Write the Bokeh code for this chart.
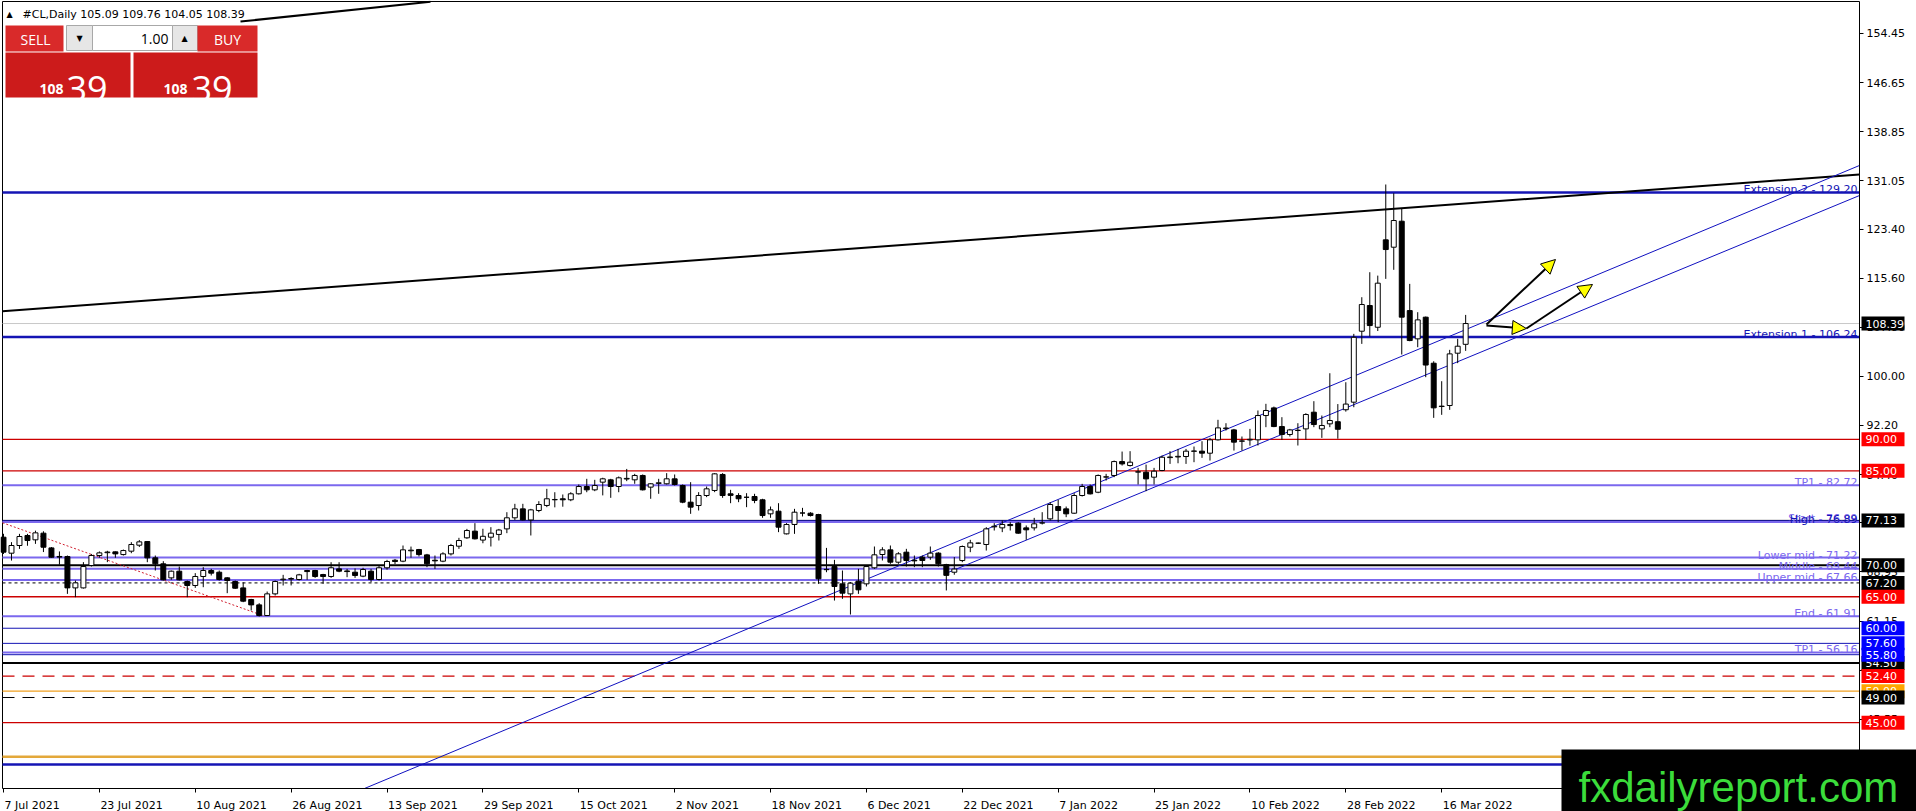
from bokeh.plotting import figure
from bokeh.models import (Range1d, FixedTicker, Label, BoxAnnotation, Arrow, NormalHead,
                          ColumnDataSource, PrintfTickFormatter, CustomJSTickFormatter)
from bokeh.embed import file_html
from bokeh.resources import INLINE

# ---------------- data ----------------
opens = [74.46, 71.92, 73.14, 74.73, 74.04, 75.1, 72.76, 71.4, 71.39, 66.41,
         66.41, 69.96, 71.55, 72.0, 72.13, 71.7, 72.24, 73.19, 73.77, 71.18,
         70.23, 68.0, 69.06, 67.42, 66.79, 68.22, 69.17, 68.9, 68.0, 67.42,
         66.41, 64.56, 63.71, 62.02, 65.46, 67.7, 67.8, 67.74, 69.17, 69.17,
         68.53, 68.22, 69.43, 69.1, 68.9, 68.27, 69.06, 67.74, 69.6, 70.8,
         70.65, 72.3, 72.5, 71.65, 70.8, 70.65, 71.81, 73.03, 74.36, 75.42,
         74.0, 74.46, 74.9, 75.78, 77.54, 78.96, 77.2, 78.7, 79.5, 80.4,
         80.56, 80.4, 81.35, 82.51, 81.98, 83.2, 83.57, 82.51, 83.7, 83.57,
         84.26, 82.41, 83.0, 82.94, 83.73, 82.67, 80.02, 79.49, 81.08, 81.88,
         84.42, 81.35, 81.08, 80.8, 80.92, 80.4, 78.17, 78.59, 74.99, 76.48,
         78.3, 78.27, 78.06, 69.3, 69.8, 67.05, 65.46, 67.48, 67.05, 69.6,
         71.71, 72.45, 70.49, 72.08, 70.8, 71.29, 71.29, 71.93, 70.1, 68.9,
         70.75, 72.87, 73.5, 73.3, 76.1, 75.94, 76.48, 76.69, 75.94, 75.94,
         76.7, 77.37, 79.33, 78.96, 78.27, 81.08, 82.51, 81.6, 84.0, 84.26,
         86.47, 85.84, 84.8, 84.78, 83.99, 85.05, 87.1, 87.2, 87.27, 88.1,
         88.12, 87.8, 89.92, 91.7, 91.5, 89.7, 89.9, 89.92, 93.78, 94.99,
         92.03, 90.77, 91.4, 91.66, 94.31, 91.66, 92.46, 92.8, 94.7, 95.9,
         107.17, 111.25, 107.8, 121.68, 120.51, 124.64, 110.45, 105.96, 109.4, 102.09,
         95.27, 95.37, 103.68, 105.09]
highs = [75.0, 73.67, 74.99, 74.99, 75.5, 75.4, 72.9, 72.2, 71.55, 67.58,
         70.5, 71.8, 72.2, 72.3, 72.2, 72.5, 73.67, 74.0, 73.83, 71.55,
         70.65, 69.17, 69.8, 67.58, 68.75, 69.7, 69.43, 69.17, 68.11, 67.58,
         67.3, 64.67, 63.98, 65.83, 67.58, 68.48, 68.1, 68.64, 69.27, 69.27,
         68.64, 70.49, 70.49, 69.43, 69.5, 69.6, 69.43, 69.96, 70.86, 71.0,
         73.14, 72.97, 72.6, 71.81, 71.55, 72.07, 73.4, 74.36, 75.78, 76.69,
         75.8, 76.05, 75.78, 78.43, 79.76, 79.76, 78.96, 80.18, 82.14, 81.6,
         81.24, 81.6, 82.83, 83.73, 83.57, 83.9, 83.73, 84.1, 85.3, 84.52,
         84.42, 83.04, 83.73, 84.63, 84.42, 82.83, 83.2, 81.61, 82.51, 84.63,
         84.63, 81.98, 81.45, 81.45, 81.35, 80.56, 79.33, 79.86, 76.69, 78.96,
         79.12, 78.43, 78.17, 72.76, 70.86, 69.17, 67.32, 69.43, 69.96, 72.98,
         72.87, 73.14, 72.08, 72.61, 71.55, 71.55, 72.98, 72.08, 70.23, 71.3,
         73.14, 74.04, 73.6, 76.05, 76.69, 77.11, 76.85, 76.85, 76.32, 77.53,
         78.43, 80.02, 80.39, 79.33, 81.45, 82.93, 82.83, 84.42, 84.52, 86.63,
         88.06, 88.12, 85.47, 85.99, 85.47, 87.43, 88.12, 88.48, 88.48, 88.86,
         89.7, 90.23, 93.1, 92.56, 91.66, 90.45, 91.66, 94.58, 95.64, 95.2,
         93.52, 91.66, 92.56, 94.15, 96.06, 93.78, 100.5, 95.6, 99.07, 106.75,
         112.57, 116.54, 116.0, 130.47, 129.09, 126.6, 114.69, 110.19, 109.5, 102.4,
         99.23, 104.21, 105.96, 109.76]
lows = [71.8, 70.75, 72.6, 73.1, 73.4, 72.1, 71.2, 70.1, 65.46, 64.93,
        66.3, 69.8, 71.2, 70.5, 71.2, 71.55, 71.92, 72.9, 70.49, 69.17,
        67.58, 67.69, 67.58, 64.93, 66.41, 66.52, 68.38, 67.58, 65.57, 66.25,
        64.14, 62.81, 61.86, 62.0, 65.2, 66.79, 66.8, 67.58, 67.69, 68.0,
        67.05, 68.0, 68.9, 68.11, 68.0, 68.11, 67.3, 67.58, 69.3, 70.2,
        70.49, 71.2, 71.4, 69.7, 69.43, 70.49, 71.55, 72.6, 74.2, 74.1,
        73.5, 72.98, 73.93, 75.1, 77.2, 77.11, 74.73, 78.43, 79.23, 79.2,
        79.3, 80.18, 81.24, 81.6, 81.77, 81.1, 80.71, 81.6, 83.36, 82.94,
        81.88, 80.56, 81.35, 82.83, 82.67, 79.86, 78.17, 78.7, 80.82, 81.61,
        80.71, 79.86, 80.02, 79.23, 79.86, 77.54, 77.54, 75.26, 74.9, 74.99,
        77.75, 77.75, 67.05, 68.9, 64.4, 64.67, 62.18, 65.46, 66.63, 69.43,
        70.76, 70.23, 70.23, 69.8, 69.7, 69.7, 70.87, 69.8, 66.0, 68.5,
        70.49, 72.08, 73.4, 72.34, 75.52, 75.26, 75.52, 74.99, 74.04, 75.52,
        76.48, 77.11, 76.85, 77.64, 78.17, 80.92, 81.24, 81.45, 83.46, 83.99,
        85.84, 85.68, 82.83, 81.77, 82.83, 84.94, 86.1, 86.2, 86.1, 86.37,
        87.06, 86.63, 89.81, 91.4, 88.22, 88.22, 89.0, 89.02, 91.93, 91.93,
        89.92, 90.45, 89.02, 89.92, 91.93, 90.23, 91.93, 90.1, 94.4, 95.1,
        105.16, 106.33, 107.2, 115.48, 116.92, 103.47, 105.58, 104.63, 99.87, 93.41,
        93.89, 94.68, 102.1, 104.05]
closes = [72.08, 73.14, 74.57, 73.93, 75.15, 72.87, 71.28, 71.3, 66.41, 67.21,
          69.8, 71.55, 71.97, 72.1, 71.81, 72.34, 73.3, 73.72, 71.18, 70.23,
          67.69, 69.06, 67.69, 66.79, 68.22, 69.17, 68.75, 67.74, 67.58, 66.36,
          64.3, 63.71, 62.02, 65.46, 67.42, 67.8, 67.9, 68.48, 69.0, 68.22,
          68.22, 69.6, 69.06, 69.0, 68.38, 69.33, 67.74, 69.6, 70.6, 70.6,
          72.45, 72.4, 71.7, 70.23, 70.7, 71.81, 73.14, 73.93, 75.52, 74.2,
          74.6, 75.1, 75.6, 77.54, 78.96, 77.2, 78.8, 79.65, 80.56, 80.45,
          80.4, 81.35, 82.51, 81.98, 82.67, 83.73, 82.51, 83.89, 83.8, 84.26,
          81.98, 82.94, 83.1, 83.73, 82.83, 80.02, 79.23, 81.08, 82.14, 84.52,
          81.08, 81.1, 80.56, 80.8, 80.29, 77.9, 78.8, 76.05, 76.48, 78.43,
          78.3, 77.9, 67.85, 69.35, 66.63, 65.57, 67.16, 66.1, 69.8, 71.66,
          72.45, 70.49, 71.82, 70.76, 70.7, 70.76, 71.93, 70.23, 68.4, 69.4,
          72.98, 73.56, 73.52, 75.78, 76.2, 76.48, 76.3, 75.1, 75.63, 76.58,
          76.75, 79.65, 78.7, 78.17, 81.08, 82.51, 81.34, 84.26, 84.05, 86.47,
          86.1, 86.37, 84.85, 83.72, 84.94, 87.16, 87.2, 87.3, 88.12, 88.15,
          87.8, 89.92, 91.82, 91.8, 89.55, 89.75, 90.0, 93.78, 94.58, 92.03,
          90.77, 91.5, 91.45, 93.94, 92.35, 92.2, 92.99, 91.6, 95.6, 106.2,
          111.41, 108.07, 114.8, 120.14, 124.75, 109.4, 105.69, 108.97, 101.8, 95.0,
          95.21, 103.57, 104.79, 108.39]

date_tick_idx = [0, 12, 24, 36, 48, 60, 72, 84, 96, 108, 120, 132, 144, 156, 168, 180]
date_tick_labels = ["7 Jul 2021", "23 Jul 2021", "10 Aug 2021", "26 Aug 2021",
                    "13 Sep 2021", "29 Sep 2021", "15 Oct 2021", "2 Nov 2021",
                    "18 Nov 2021", "6 Dec 2021", "22 Dec 2021", "7 Jan 2022",
                    "25 Jan 2022", "10 Feb 2022", "28 Feb 2022", "16 Mar 2022"]
price_ticks = [154.45, 146.65, 138.85, 131.05, 123.40, 115.60, 107.80, 100.00,
               92.20, 84.40, 76.75, 68.95, 61.15, 53.35, 45.55, 37.75]

BLUE = "#1414B4"
SLATE = "#7B68EE"
RED = "#CC0000"
level_prices = [129.20, 106.24, 108.39, 90.00, 85.00, 82.72, 77.13, 76.99, 76.89,
                71.22, 70.00, 69.44, 67.66, 67.20, 65.00, 61.91, 60.00, 57.60,
                56.16, 55.80, 54.50, 52.40, 50.00, 49.00, 45.00, 39.60, 38.35]
level_colors = [BLUE, BLUE, "#C8C8C8", RED, RED, SLATE, "black", BLUE, SLATE,
                SLATE, "black", SLATE, SLATE, "black", RED, SLATE, BLUE, BLUE,
                SLATE, BLUE, "black", RED, "#F0A020", "black", RED, "#E3A83A", BLUE]
level_widths = [2.5, 2.5, 1, 1.3, 1.3, 2, 1, 2, 2,
                2, 2, 2, 2, 1, 1.3, 2, 1, 1,
                2, 1, 2, 1.3, 1.2, 1, 1.3, 2.5, 2.5]
level_dashes = ["solid"] * 13 + ["3 3"] + ["solid"] * 7 + ["12 8", "solid", "12 8", "solid", "solid", "solid"]

line_text_prices = [129.20, 106.24, 82.72, 76.99, 76.89, 71.22, 69.44, 67.66, 61.91, 56.16]
line_text_labels = ["Extension 2 - 129.20", "Extension 1 - 106.24", "TP1 - 82.72",
                    "Start - 76.99", "High - 76.89", "Lower mid - 71.22", "Middle - 69.44",
                    "Upper mid - 67.66", "End - 61.91", "TP1 - 56.16"]
line_text_colors = [BLUE, BLUE, SLATE, SLATE, BLUE, SLATE, SLATE, SLATE, SLATE, SLATE]

box_prices = [77.13, 85.00, 90.00, 108.39, 70.00, 67.20, 65.00, 60.00, 54.50,
              57.60, 55.80, 52.40, 50.00, 49.00, 45.00]
box_colors = ["black", "#FF0000", "#FF0000", "black", "black", "black", "#FF0000",
              "#0000FF", "black", "#0000FF", "#0000FF", "#FF0000", "#FFA500", "black", "#FF0000"]

# trend lines / arrows (bar index, price)
black_trend_x = [-0.125, 232.29]
black_trend_y = [110.35, 132.06]
black_top_x = [29.66, 53.44]
black_top_y = [156.35, 159.48]
red_dotted_x = [-0.125, 32.5]
red_dotted_y = [76.75, 62.0]
channel_a_x = [45.18, 232.29]
channel_a_y = [34.55, 133.49]
channel_b_x = [117.9, 232.29]
channel_b_y = [68.69, 128.72]
arrow_x0 = [185.6, 185.6, 190.6]
arrow_y0 = [108.24, 108.08, 107.6]
arrow_x1 = [194.24, 190.6, 198.87]
arrow_y1 = [118.56, 107.6, 114.59]

# ---------------- geometry of the MT4 chart window ----------------
W, H = 1916, 811
PXB = 7.99            # pixels per bar
PXP = 6.297           # pixels per price unit
XL, XR = -0.125, 232.29   # left border / right scale line (bar index)
YB, YT = 34.55, 159.53    # bottom time-scale line / top border (price)

p = figure(width=W, height=H, x_range=Range1d(-0.3755, -0.3755 + W / PXB),
           y_range=Range1d(159.69 - H / PXP, 159.69), output_backend="svg",
           toolbar_location=None, y_axis_location="right",
           min_border_left=0, min_border_top=0, min_border_right=0, min_border_bottom=0)
p.xgrid.visible = False
p.ygrid.visible = False
p.outline_line_color = None
p.background_fill_color = "white"
p.border_fill_color = "white"

ya = p.yaxis[0]
ya.fixed_location = XR
ya.bounds = (YB, YT)
ya.ticker = FixedTicker(ticks=price_ticks)
ya.formatter = PrintfTickFormatter(format="%.2f")
ya.major_tick_out = 4
ya.major_tick_in = 0
ya.minor_tick_line_color = None
ya.major_label_standoff = 3
ya.major_label_text_font = "DejaVu Sans"
ya.major_label_text_font_size = "11px"
ya.major_label_text_color = "black"
ya.axis_line_color = "black"

# date labels are left-aligned at their tick in MT4: centre each label after its tick
cw = {"0": .636, "1": .636, "2": .636, "3": .636, "4": .636, "5": .636, "6": .636,
      "7": .636, "8": .636, "9": .636, " ": .318, "J": .295, "u": .634, "l": .278,
      "A": .684, "g": .635, "S": .635, "e": .615, "p": .635, "O": .787, "c": .550,
      "t": .392, "N": .748, "o": .612, "v": .592, "D": .770, "a": .613, "n": .634,
      "F": .575, "b": .635, "M": .863, "r": .411}
label_centres = [round(i + (1 + 11 * sum(cw.get(ch, .6) for ch in s) / 2) / PXB, 4)
                 for i, s in zip(date_tick_idx, date_tick_labels)]

xa = p.xaxis[0]
xa.fixed_location = YB
xa.bounds = (XL, XR)
xa.ticker = FixedTicker(ticks=label_centres, minor_ticks=date_tick_idx)
xa.formatter = CustomJSTickFormatter(args=dict(c=label_centres, l=date_tick_labels), code="""
    let best = 0;
    for (let k = 0; k < c.length; k++) {
        if (Math.abs(c[k] - tick) < Math.abs(c[best] - tick)) best = k;
    }
    return l[best];
""")
xa.major_tick_out = 0
xa.major_tick_in = 0
xa.minor_tick_out = 4
xa.minor_tick_in = 0
xa.minor_tick_line_color = "black"
xa.major_label_standoff = 6
xa.major_label_text_font = "DejaVu Sans"
xa.major_label_text_font_size = "11px"
xa.major_label_text_color = "black"
xa.axis_line_color = "black"

# chart borders (left, top)
p.segment(x0=[XL, XL], y0=[YB, YT], x1=[XL, XR], y1=[YT, YT], line_color="black", line_width=1)

# horizontal levels
for pr, col, w, d in zip(level_prices, level_colors, level_widths, level_dashes):
    p.segment(x0=[XL], y0=[pr], x1=[XR], y1=[pr], line_color=col, line_width=w, line_dash=d)

# trend lines
p.line(black_trend_x, black_trend_y, line_color="black", line_width=2)
p.line(black_top_x, black_top_y, line_color="black", line_width=2)
p.line(red_dotted_x, red_dotted_y, line_color="#D02030", line_width=1, line_dash="2 2")
p.line(channel_a_x, channel_a_y, line_color="#1010C0", line_width=1)
p.line(channel_b_x, channel_b_y, line_color="#1010C0", line_width=1)

# candles
src = ColumnDataSource(dict(
    x=list(range(len(opens))), o=opens, h=highs, l=lows, c=closes,
    top=[max(a, b) for a, b in zip(opens, closes)],
    bottom=[min(a, b) for a, b in zip(opens, closes)],
    fill=["white" if c >= o else "black" for o, c in zip(opens, closes)]))
p.segment(x0="x", y0="l", x1="x", y1="h", source=src, line_color="black", line_width=1)
p.vbar(x="x", width=0.62, top="top", bottom="bottom", source=src,
       fill_color="fill", line_color="black", line_width=1)

# arrows
for a, b, c, d in zip(arrow_x0, arrow_y0, arrow_x1, arrow_y1):
    p.add_layout(Arrow(x_start=a, y_start=b, x_end=c, y_end=d, line_color="black",
                       line_width=2, end=NormalHead(size=14, fill_color="#FFFF00",
                                                    line_color="black", line_width=1)))

# level texts at right edge, sitting just above their line
LIFT = 2.5 / PXP
for pr, t, col in zip(line_text_prices, line_text_labels, line_text_colors):
    p.add_layout(Label(x=XR, y=pr + LIFT, text=t, x_offset=-2, text_align="right",
                       text_baseline="alphabetic", text_font="DejaVu Sans",
                       text_font_size="11px", text_color=col))

# price boxes on the right scale
HALF = 7 / PXP
for pr, col in zip(box_prices, box_colors):
    p.add_layout(BoxAnnotation(left=1861, right=1904, left_units="screen", right_units="screen",
                               top=pr + HALF, bottom=pr - HALF, fill_color=col, fill_alpha=1.0,
                               line_color=None))
    p.add_layout(Label(x=XR, y=pr, text=f"{pr:.2f}", x_offset=6, text_align="left",
                       text_baseline="middle", text_font="DejaVu Sans", text_font_size="11px",
                       text_color="white"))

# ---------------- screen overlays (trade panel, watermark) ----------------
def sy(ry):
    return H - ry

def box(l, t, r, b, fill, line=None):
    p.add_layout(BoxAnnotation(left=l, right=r, top=sy(t), bottom=sy(b),
                               left_units="screen", right_units="screen",
                               top_units="screen", bottom_units="screen",
                               fill_color=fill, fill_alpha=1.0, line_color=line,
                               line_alpha=1.0, level="overlay"))

def txt(rx, ry, s, size, color, font="Open Sans", align="left", baseline="middle", style="normal"):
    p.add_layout(Label(x=rx, y=sy(ry), x_units="screen", y_units="screen", text=s,
                       text_font=font, text_font_size=f"{size}px", text_color=color,
                       text_align=align, text_baseline=baseline, text_font_style=style,
                       level="overlay"))

txt(6, 14, "\u25b2", 8, "black", font="DejaVu Sans")
txt(22, 14, "#CL,Daily  105.09 109.76 104.05 108.39", 11, "black", font="DejaVu Sans")

box(5, 25, 63, 51, "#D92A2A")
box(66, 25, 92, 50, "#E6E6E6", "#A8A8A8")
box(92, 25, 172, 50, "white", "#A8A8A8")
box(172, 25, 197, 50, "#E6E6E6", "#A8A8A8")
box(197, 25, 257, 51, "#D92A2A")
box(5, 52, 130, 97, "#CC1B1B")
box(133, 52, 257, 97, "#CC1B1B")
txt(35, 39, "SELL", 14, "white", align="center")
txt(227, 39, "BUY", 14, "white", align="center")
txt(168, 38, "1.00", 14, "black", align="right")
txt(79, 38, "\u25bc", 8, "black", font="DejaVu Sans", align="center")
txt(184, 38, "\u25b2", 8, "black", font="DejaVu Sans", align="center")
txt(39, 88, "108", 14, "white", baseline="alphabetic", style="bold")
txt(66, 88, "39", 36, "white", baseline="alphabetic")
txt(163, 88, "108", 14, "white", baseline="alphabetic", style="bold")
txt(191, 88, "39", 36, "white", baseline="alphabetic")

box(1561, 749, 1916, 811, "black")
txt(1578, 787, "fxdailyreport.com", 42, "#3BDC3B", font="Liberation Sans", baseline="alphabetic")

open("out.html", "w").write(file_html(p, INLINE))
